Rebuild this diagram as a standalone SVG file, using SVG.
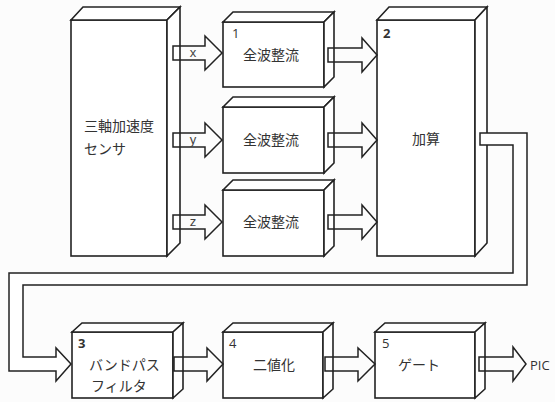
<svg xmlns="http://www.w3.org/2000/svg" width="555" height="402" viewBox="0 0 555 402">
<style>
.b{fill:#fff;stroke:#222;stroke-width:1.6;stroke-linejoin:miter}
.a{fill:none;stroke:#222;stroke-width:1.5}
.p{fill:#fff;stroke:#222;stroke-width:1.5}
.t{font-family:"Noto Sans CJK JP","Noto Sans",sans-serif;font-size:14px;fill:#333}
.n{font-family:"Open Sans","Liberation Sans",sans-serif;font-size:13px;fill:#333}
.l{font-family:"Liberation Sans",sans-serif;font-size:13px;fill:#444}
</style>
<rect width="555" height="402" fill="#fcfcfc"/>
<g id="sensor">
<rect class="b" x="71" y="20" width="96" height="236"/>
<polygon class="b" points="71,20 83,7 180,7 167,20"/>
<polygon class="b" points="167,20 180,7 180,243 167,256"/>
<text class="t" x="84" y="131">三軸加速度</text>
<text class="t" x="84" y="154">センサ</text>
</g>
<g id="rect1">
<rect class="b" x="223" y="22" width="101" height="65"/>
<polygon class="b" points="223,22 233,12 334,12 324,22"/>
<polygon class="b" points="324,22 334,12 334,77 324,87"/>
<text class="n" x="232" y="38">1</text>
<text class="t" x="271" y="60" text-anchor="middle">全波整流</text>
</g>
<g id="rect2">
<rect class="b" x="223" y="107" width="101" height="66"/>
<polygon class="b" points="223,107 233,97 334,97 324,107"/>
<polygon class="b" points="324,107 334,97 334,163 324,173"/>
<text class="t" x="271" y="145" text-anchor="middle">全波整流</text>
</g>
<g id="rect3">
<rect class="b" x="223" y="190" width="101" height="66"/>
<polygon class="b" points="223,190 233,180 334,180 324,190"/>
<polygon class="b" points="324,190 334,180 334,246 324,256"/>
<text class="t" x="271" y="227" text-anchor="middle">全波整流</text>
</g>
<g id="sum">
<rect class="b" x="377" y="20" width="98" height="236"/>
<polygon class="b" points="377,20 389,7 487,7 475,20"/>
<polygon class="b" points="475,20 487,7 487,243 475,256"/>
<text class="n" x="383" y="38" font-weight="bold">2</text>
<text class="t" x="426" y="144" text-anchor="middle">加算</text>
</g>
<g id="bpf">
<rect class="b" x="72" y="332" width="101" height="66"/>
<polygon class="b" points="72,332 82,323 183,323 173,332"/>
<polygon class="b" points="173,332 183,323 183,389 173,398"/>
<text class="n" x="78" y="348" font-weight="bold">3</text>
<text class="t" x="89" y="370">バンドパス</text>
<text class="t" x="91" y="391">フィルタ</text>
</g>
<g id="bin">
<rect class="b" x="223" y="332" width="100" height="66"/>
<polygon class="b" points="223,332 233,323 333,323 323,332"/>
<polygon class="b" points="323,332 333,323 333,389 323,398"/>
<text class="n" x="229" y="348">4</text>
<text class="t" x="274" y="370" text-anchor="middle">二値化</text>
</g>
<g id="gate">
<rect class="b" x="375" y="332" width="100" height="66"/>
<polygon class="b" points="375,332 385,323 485,323 475,332"/>
<polygon class="b" points="475,332 485,323 485,389 475,398"/>
<text class="n" x="382" y="348">5</text>
<text class="t" x="419" y="370" text-anchor="middle">ゲート</text>
</g>
<g id="connectors">
<polygon class="a" points="173,46 205,46 205,36 222,53 205,70 205,60 173,60"/>
<polygon class="a" points="173,133 205,133 205,123 222,140 205,157 205,147 173,147"/>
<polygon class="a" points="173,215 205,215 205,205 222,222 205,239 205,229 173,229"/>
<polygon class="a" points="328,48 362,48 362,38 377,55 362,72 362,62 328,62"/>
<polygon class="a" points="328,133 362,133 362,123 377,140 362,157 362,147 328,147"/>
<polygon class="a" points="328,215 362,215 362,205 377,222 362,239 362,229 328,229"/>
<polygon class="p" points="480,133 527,133 527,285 23,285 23,357 56,357 56,348 71,364 56,381 56,371 9,371 9,273 513,273 513,145 480,145"/>
<polygon class="a" points="174,357 207,357 207,348 223,364 207,381 207,371 174,371"/>
<polygon class="a" points="325,357 358,357 358,348 375,364 358,381 358,371 325,371"/>
<polygon class="a" points="479,357 513,357 513,347 526,364 513,381 513,371 479,371"/>
<text class="l" x="193" y="57" text-anchor="middle">x</text>
<text class="l" x="193" y="144" text-anchor="middle">y</text>
<text class="l" x="193" y="226" text-anchor="middle">z</text>
<text class="n" x="530" y="370" font-size="14">PIC</text>
</g>
</svg>
